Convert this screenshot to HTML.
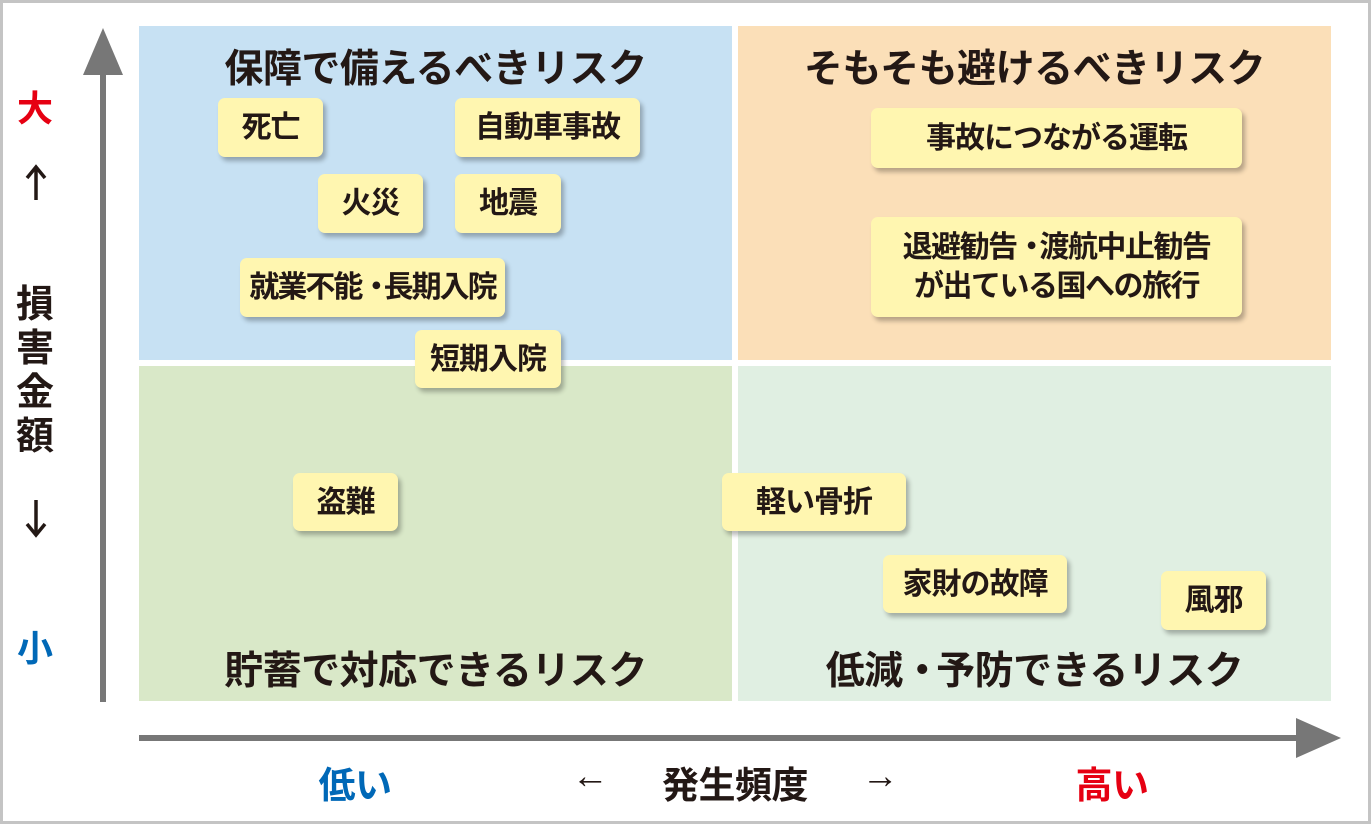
<!DOCTYPE html>
<html><head><meta charset="utf-8"><style>
body{margin:0;width:1371px;height:824px;position:relative;background:#fff;overflow:hidden;font-family:"Liberation Sans","Noto Sans CJK JP",sans-serif;font-weight:bold;color:#231815}
.frame{position:absolute;left:0;top:0;width:1365px;height:818px;border:3px solid #c4c4c4}
.q{position:absolute}
.b{position:absolute;background:#fff6b0;border-radius:7px;box-shadow:3px 4px 5px rgba(0,0,0,.28);display:flex;align-items:center;justify-content:center;font-size:30px;letter-spacing:-1px;text-align:center;line-height:1.3;white-space:nowrap}
.t{position:absolute;font-size:39px;letter-spacing:-0.5px;text-align:center;white-space:nowrap}
.l{position:absolute;font-size:36px;text-align:center;width:60px}
.d{letter-spacing:-14px}
</style></head><body>
<div class="frame"></div>
<div class="q" style="left:139px;top:26px;width:593px;height:334px;background:#c7e1f3"></div>
<div class="q" style="left:738px;top:26px;width:593px;height:334px;background:#fbdfb8"></div>
<div class="q" style="left:139px;top:366px;width:593px;height:335px;background:#d9e8c8"></div>
<div class="q" style="left:738px;top:366px;width:593px;height:335px;background:#e0efe2"></div>
<svg style="position:absolute;left:0;top:0" width="1371" height="824">
<line x1="103" y1="60" x2="103" y2="702" stroke="#777" stroke-width="6"/>
<polygon points="103,28 83,75 123,75" fill="#777"/>
<line x1="139" y1="738" x2="1310" y2="738" stroke="#777" stroke-width="6"/>
<polygon points="1341,738 1296,718 1296,758" fill="#777"/>
<g stroke="#231815" stroke-width="3.5" fill="none">
<line x1="36" y1="168" x2="36" y2="200"/><polyline points="27,178 36,167 45,178"/>
<line x1="36" y1="500" x2="36" y2="534"/><polyline points="27,524 36,535 45,524"/>
</g>
</svg>
<div class="t" style="left:139px;width:593px;top:38px">保障で備えるべきリスク</div>
<div class="t" style="left:738px;width:593px;top:38px">そもそも避けるべきリスク</div>
<div class="t" style="left:139px;width:593px;top:640px">貯蓄で対応できるリスク</div>
<div class="t" style="left:738px;width:593px;top:640px"><div>低減<span style="letter-spacing:-16px">・</span>&nbsp;予防できるリスク</div></div>
<div class="b" style="left:218px;top:98px;width:105px;height:59px">死亡</div>
<div class="b" style="left:455px;top:98px;width:185px;height:59px">自動車事故</div>
<div class="b" style="left:318px;top:174px;width:105px;height:59px">火災</div>
<div class="b" style="left:455px;top:174px;width:106px;height:59px">地震</div>
<div class="b" style="left:240px;top:258px;width:265px;height:59px;letter-spacing:-2px"><div>就業不能<span class="d">・</span>&nbsp;長期入院</div></div>
<div class="b" style="left:415px;top:330px;width:146px;height:58px">短期入院</div>
<div class="b" style="left:871px;top:108px;width:371px;height:60px">事故につながる運転</div>
<div class="b" style="left:871px;top:217px;width:371px;height:100px;letter-spacing:-1.5px"><div>退避勧告<span class="d">・</span>&nbsp;渡航中止勧告<br>が出ている国への旅行</div></div>
<div class="b" style="left:293px;top:473px;width:105px;height:58px">盗難</div>
<div class="b" style="left:722px;top:473px;width:184px;height:58px">軽い骨折</div>
<div class="b" style="left:883px;top:555px;width:184px;height:58px">家財の故障</div>
<div class="b" style="left:1161px;top:571px;width:105px;height:59px">風邪</div>
<div class="l" style="left:5px;top:80px;color:#e60012">大</div>
<div class="l" style="left:5px;top:283px;line-height:44px;font-size:38px">損<br>害<br>金<br>額</div>
<div class="l" style="left:5px;top:620px;color:#0068b7">小</div>
<div class="t" style="left:295px;width:120px;top:755px;font-size:37px;color:#0068b7">低い</div>
<div class="t" style="left:560px;width:60px;top:755px;font-size:37px">←</div>
<div class="t" style="left:640px;width:190px;top:755px;font-size:37px">発生頻度</div>
<div class="t" style="left:850px;width:60px;top:755px;font-size:37px">→</div>
<div class="t" style="left:1052px;width:120px;top:755px;font-size:37px;color:#e60012">高い</div>
</body></html>
